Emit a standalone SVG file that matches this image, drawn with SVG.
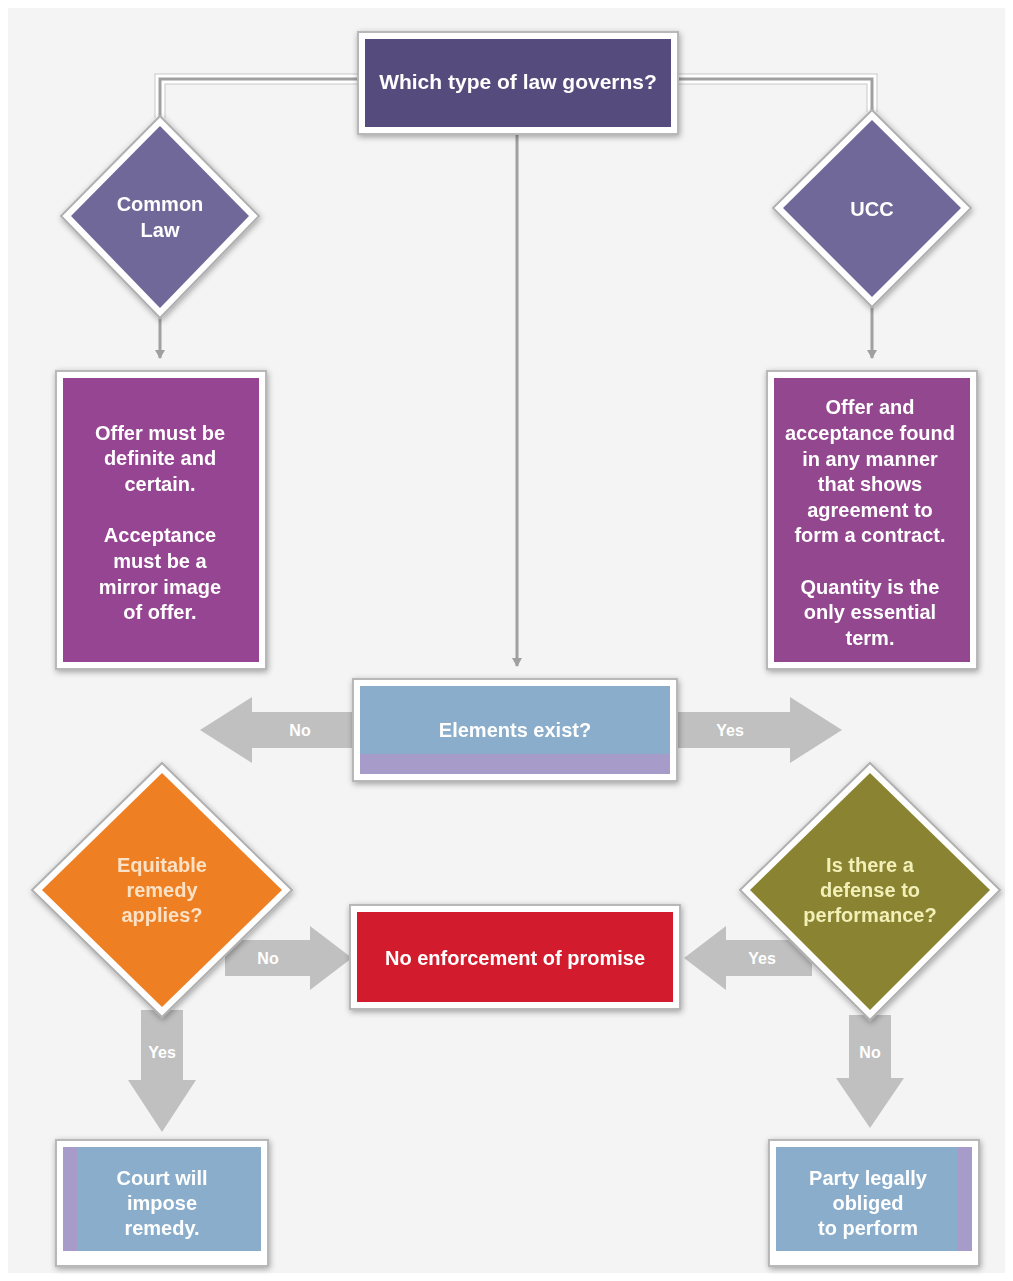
<svg xmlns="http://www.w3.org/2000/svg" width="1013" height="1281" viewBox="0 0 1013 1281">
<style>
.t{font-family:"Liberation Sans","Open Sans",Arial,sans-serif;font-weight:bold;text-anchor:middle;fill:#ffffff}
.frame{fill:#ffffff;stroke:#b8b8b8;stroke-width:2}
.ln{fill:none;stroke:#a0a0a0;stroke-width:3}
.lnw{fill:none;stroke:#ffffff;stroke-width:9}
.lno{fill:none;stroke:#c8c8c8;stroke-width:11}
.blk{fill:#c0c0c0}
.bl{font-size:16px}
.f{font-size:20px}
</style>
<defs>
<filter id="sh" x="-10%" y="-10%" width="120%" height="120%">
<feGaussianBlur in="SourceAlpha" stdDeviation="3"/>
<feOffset dx="1" dy="2"/>
<feComponentTransfer><feFuncA type="linear" slope="0.35"/></feComponentTransfer>
<feMerge><feMergeNode/><feMergeNode in="SourceGraphic"/></feMerge>
</filter>
<marker id="ah" markerWidth="10" markerHeight="10" refX="8" refY="5" orient="auto" markerUnits="userSpaceOnUse">
<path d="M0,0 L9,5 L0,10 Z" fill="#a0a0a0"/>
</marker>
</defs>
<rect x="0" y="0" width="1013" height="1281" fill="#ffffff"/>
<rect x="8" y="8" width="997" height="1265" fill="#f4f4f4"/>

<g id="connectors">
<path class="lno" d="M360,79 H160 V118"/>
<path class="lnw" d="M360,79 H160 V118"/>
<path class="ln" d="M360,79 H160 V118"/>
<path class="lno" d="M676,79 H872 V112"/>
<path class="lnw" d="M676,79 H872 V112"/>
<path class="ln" d="M676,79 H872 V112"/>
<path class="ln" d="M160,318 V358" marker-end="url(#ah)"/>
<path class="ln" d="M872,306 V358" marker-end="url(#ah)"/>
<path class="ln" d="M517,135 V666" marker-end="url(#ah)"/>
<path class="blk" d="M355,712 H252 V697 L200,730 L252,763 V748 H355 Z"/>
<text class="t bl" x="300" y="736">No</text>
<path class="blk" d="M677,712 H790 V697 L842,730 L790,763 V748 H677 Z"/>
<text class="t bl" x="730" y="736">Yes</text>
<path class="blk" d="M225,940 H310 V926 L352,958 L310,990 V976 H225 Z"/>
<text class="t bl" x="268" y="964">No</text>
<path class="blk" d="M812,940 H726 V926 L684,958 L726,990 V976 H812 Z"/>
<text class="t bl" x="762" y="964">Yes</text>
<path class="blk" d="M141,1010 V1080 H128 L162,1132 L196,1080 H183 V1010 Z"/>
<text class="t bl" x="162" y="1058">Yes</text>
<path class="blk" d="M849,1015 V1078 H836 L870,1128 L904,1078 H891 V1015 Z"/>
<text class="t bl" x="870" y="1058">No</text>
</g>

<g id="n-law" filter="url(#sh)">
<rect class="frame" x="358" y="32" width="320" height="102"/>
<rect x="365" y="39" width="306" height="88" fill="#544c7c"/>
<text class="t" x="518" y="89" font-size="21">Which type of law governs?</text>
</g>

<g id="n-common" filter="url(#sh)">
<polygon points="160,116 259,216 160,318 61,216" fill="#ffffff" stroke="#b0b0b0" stroke-width="2"/>
<polygon points="160,126 249,216 160,308 71,216" fill="#6f6899"/>
<text class="t f" x="160" y="211">Common</text>
<text class="t f" x="160" y="237">Law</text>
</g>

<g id="n-ucc" filter="url(#sh)">
<polygon points="872,110 971,208 872,307 773,208" fill="#ffffff" stroke="#b0b0b0" stroke-width="2"/>
<polygon points="872,120 961,208 872,297 783,208" fill="#6f6899"/>
<text class="t f" x="872" y="216">UCC</text>
</g>

<g id="n-commonrule" filter="url(#sh)">
<rect class="frame" x="56" y="371" width="210" height="298"/>
<rect x="63" y="378" width="196" height="284" fill="#964592"/>
<g class="t f">
<text x="160" y="440">Offer must be</text>
<text x="160" y="465">definite and</text>
<text x="160" y="491">certain.</text>
<text x="160" y="542">Acceptance</text>
<text x="160" y="568">must be a</text>
<text x="160" y="594">mirror image</text>
<text x="160" y="619">of offer.</text>
</g>
</g>

<g id="n-uccrule" filter="url(#sh)">
<rect class="frame" x="767" y="371" width="210" height="298"/>
<rect x="774" y="378" width="196" height="284" fill="#92468f"/>
<g class="t f">
<text x="870" y="414">Offer and</text>
<text x="870" y="440">acceptance found</text>
<text x="870" y="466">in any manner</text>
<text x="870" y="491">that shows</text>
<text x="870" y="517">agreement to</text>
<text x="870" y="542">form a contract.</text>
<text x="870" y="594">Quantity is the</text>
<text x="870" y="619">only essential</text>
<text x="870" y="645">term.</text>
</g>
</g>

<g id="n-elements" filter="url(#sh)">
<rect class="frame" x="353" y="679" width="324" height="102"/>
<rect x="360" y="686" width="310" height="88" fill="#89adcb"/>
<rect x="360" y="754" width="310" height="20" fill="#a79cc9"/>
<text class="t f" x="515" y="737">Elements exist?</text>
</g>

<g id="n-equitable" filter="url(#sh)">
<polygon points="162,763 292,890 162,1017 32,890" fill="#ffffff" stroke="#b0b0b0" stroke-width="2"/>
<polygon points="162,773 282,890 162,1007 42,890" fill="#ee7f23"/>
<g class="t f" style="fill:#fbe2c6">
<text x="162" y="872">Equitable</text>
<text x="162" y="897">remedy</text>
<text x="162" y="922">applies?</text>
</g>
</g>

<g id="n-defense" filter="url(#sh)">
<polygon points="870,763 1000,890 870,1020 740,890" fill="#ffffff" stroke="#b0b0b0" stroke-width="2"/>
<polygon points="870,773 990,890 870,1010 750,890" fill="#8a8431"/>
<g class="t f" style="fill:#f2f0b8">
<text x="870" y="872">Is there a</text>
<text x="870" y="897">defense to</text>
<text x="870" y="922">performance?</text>
</g>
</g>

<g id="n-noenf" filter="url(#sh)">
<rect class="frame" x="350" y="905" width="330" height="104"/>
<rect x="357" y="912" width="316" height="90" fill="#d21f2f"/>
<text class="t f" x="515" y="965">No enforcement of promise</text>
</g>

<g id="n-court" filter="url(#sh)">
<rect class="frame" x="56" y="1140" width="212" height="126"/>
<rect x="63" y="1147" width="198" height="104" fill="#89adcb"/>
<rect x="63" y="1147" width="14" height="104" fill="#a79cc9"/>
<g class="t f">
<text x="162" y="1185">Court will</text>
<text x="162" y="1210">impose</text>
<text x="162" y="1235">remedy.</text>
</g>
</g>

<g id="n-party" filter="url(#sh)">
<rect class="frame" x="769" y="1140" width="210" height="126"/>
<rect x="776" y="1147" width="196" height="104" fill="#89adcb"/>
<rect x="958" y="1147" width="14" height="104" fill="#a79cc9"/>
<g class="t f">
<text x="868" y="1185">Party legally</text>
<text x="868" y="1210">obliged</text>
<text x="868" y="1235">to perform</text>
</g>
</g>
</svg>
